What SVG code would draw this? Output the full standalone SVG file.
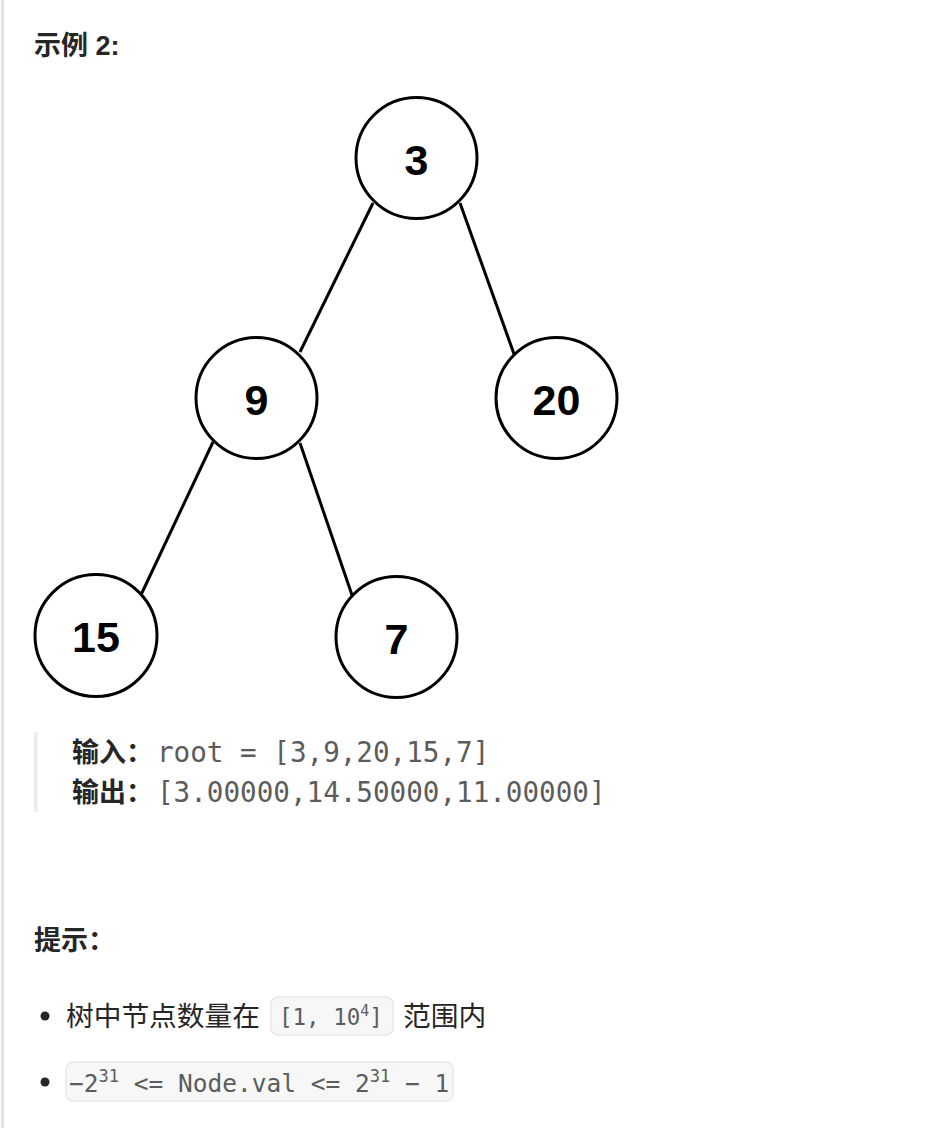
<svg xmlns="http://www.w3.org/2000/svg" width="936" height="1128" viewBox="0 0 936 1128">
<style>
.node circle{fill:#fff;stroke:#000;stroke-width:3}
.node text{font-family:"Liberation Sans",Arial,sans-serif;font-weight:bold;font-size:43px;text-anchor:middle;fill:#000}
.edge{stroke:#000;stroke-width:3;fill:none}
.h{font-family:"Liberation Sans","Noto Sans CJK SC",sans-serif;font-weight:bold;font-size:27px;fill:#262626}
.b{font-family:"Liberation Sans","Noto Sans CJK SC",sans-serif;font-size:27.7px;fill:#262626}
.mono{font-family:"DejaVu Sans Mono","Liberation Mono",monospace;fill:#5c5c5c}
.code{fill:#f7f7f7;stroke:#e8e8e8;stroke-width:1.5}
</style>
<rect x="0" y="0" width="936" height="1128" fill="#fff"/>
<rect x="1" y="0" width="3" height="1128" fill="#e3e3e3"/>
<text class="h" x="34" y="55">示例 2:</text>
<g id="connectors">
<line class="edge" x1="373" y1="203" x2="300" y2="352"/>
<line class="edge" x1="460" y1="203" x2="514" y2="354"/>
<line class="edge" x1="213" y1="442" x2="140" y2="597"/>
<line class="edge" x1="300" y1="443" x2="353" y2="598"/>
</g>
<g id="node3" class="node"><circle cx="416.5" cy="158" r="60.5"/><text x="416.5" y="175">3</text></g>
<g id="node9" class="node"><circle cx="256.5" cy="398" r="60.5"/><text x="256.5" y="415">9</text></g>
<g id="node20" class="node"><circle cx="556.5" cy="398" r="60.5"/><text x="556.5" y="415">20</text></g>
<g id="node15" class="node"><circle cx="96" cy="635.5" r="61"/><text x="96" y="652">15</text></g>
<g id="node7" class="node"><circle cx="396.5" cy="637" r="60.5"/><text x="396.5" y="654">7</text></g>
<rect x="34" y="732" width="3.5" height="80" fill="#ebebeb"/>
<text class="h" x="72" y="762">输入：</text>
<text class="mono" x="157" y="762" font-size="27.6">root = [3,9,20,15,7]</text>
<text class="h" x="72" y="802">输出：</text>
<text class="mono" x="157" y="802" font-size="27.6">[3.00000,14.50000,11.00000]</text>
<text class="h" x="34" y="950">提示：</text>
<circle cx="45" cy="1016" r="4.5" fill="#262626"/>
<text class="b" x="66" y="1026">树中节点数量在</text>
<rect class="code" x="271" y="997" width="122" height="38" rx="7"/>
<text class="mono" x="279" y="1025" font-size="22.5">[1, 10<tspan font-size="15" dy="-9">4</tspan><tspan dy="9">]</tspan></text>
<text class="b" x="403" y="1026">范围内</text>
<circle cx="45" cy="1082" r="4.5" fill="#262626"/>
<rect class="code" x="66" y="1062" width="387" height="39" rx="7"/>
<text class="mono" x="69" y="1092" font-size="24.5">−2<tspan font-size="17" dy="-10">31</tspan><tspan dy="10"> &lt;= Node.val &lt;= 2</tspan><tspan font-size="17" dy="-10">31</tspan><tspan dy="10"> − 1</tspan></text>
</svg>
